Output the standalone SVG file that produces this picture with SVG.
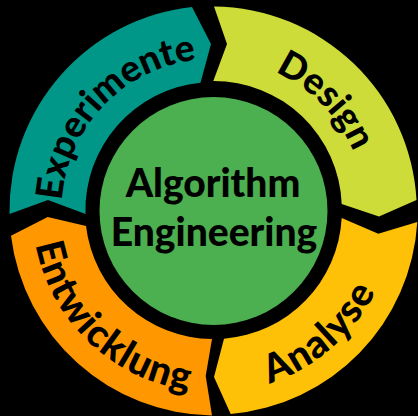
<svg xmlns="http://www.w3.org/2000/svg" width="418" height="416" viewBox="0 0 418 416">
<style>
text{font-family:"Lato","Noto Sans",sans-serif;font-weight:900;fill:#000;text-anchor:middle}
.r{font-size:37px}
.b{font-size:39px;letter-spacing:1px}
.c{font-size:39px}
</style>
<defs>
<path id="pExp" d="M65.500 245.700A152 152 0 0 1 241.700 61.600"/>
<path id="pDes" d="M228.600 59.800A152 152 0 0 1 365 198.300"/>
<path id="pAna" d="M216.300 392A181 181 0 0 0 392.200 239.600"/>
<path id="pEnt" d="M33 196.800A181 181 0 0 0 230.800 391.200"/>
</defs>
<rect width="418" height="416" fill="#000"/>
<g id="experimente">
<path fill="#009688" d="M9.500 214A205 205 0 0 1 192 7L211 44L200.500 82.700A128 128 0 0 0 85.500 214L48 200Z"/>
<text class="r"><textPath href="#pExp" startOffset="50%">Experimente</textPath></text>
</g>
<g id="design">
<path fill="#CDDC39" d="M214 6.500A205 205 0 0 1 416.500 200L379 216.500L341.700 204A128 128 0 0 0 213.300 81L227 44Z"/>
<text class="r"><textPath href="#pDes" startOffset="50%">Design</textPath></text>
</g>
<g id="analyse">
<path fill="#FFC107" d="M417.300 222A205 205 0 0 1 230.700 414L214 377L224 338.700A128 128 0 0 0 341.700 218L378.300 233.700Z"/>
<text class="b"><textPath href="#pAna" startOffset="50%">Analyse</textPath></text>
</g>
<g id="entwicklung">
<path fill="#FF9800" d="M212 415.500A205 205 0 0 1 11 235.700L47.700 217L86 226A128 128 0 0 0 212 339L205.700 376Z"/>
<text class="b"><textPath href="#pEnt" startOffset="51%">Entwicklung</textPath></text>
</g>
<g id="center">
<circle cx="213.500" cy="211" r="114" fill="#4CAF50"/>
<text class="c" x="213" y="197">Algorithm</text>
<text class="c" x="214" y="246">Engineering</text>
</g>
</svg>
